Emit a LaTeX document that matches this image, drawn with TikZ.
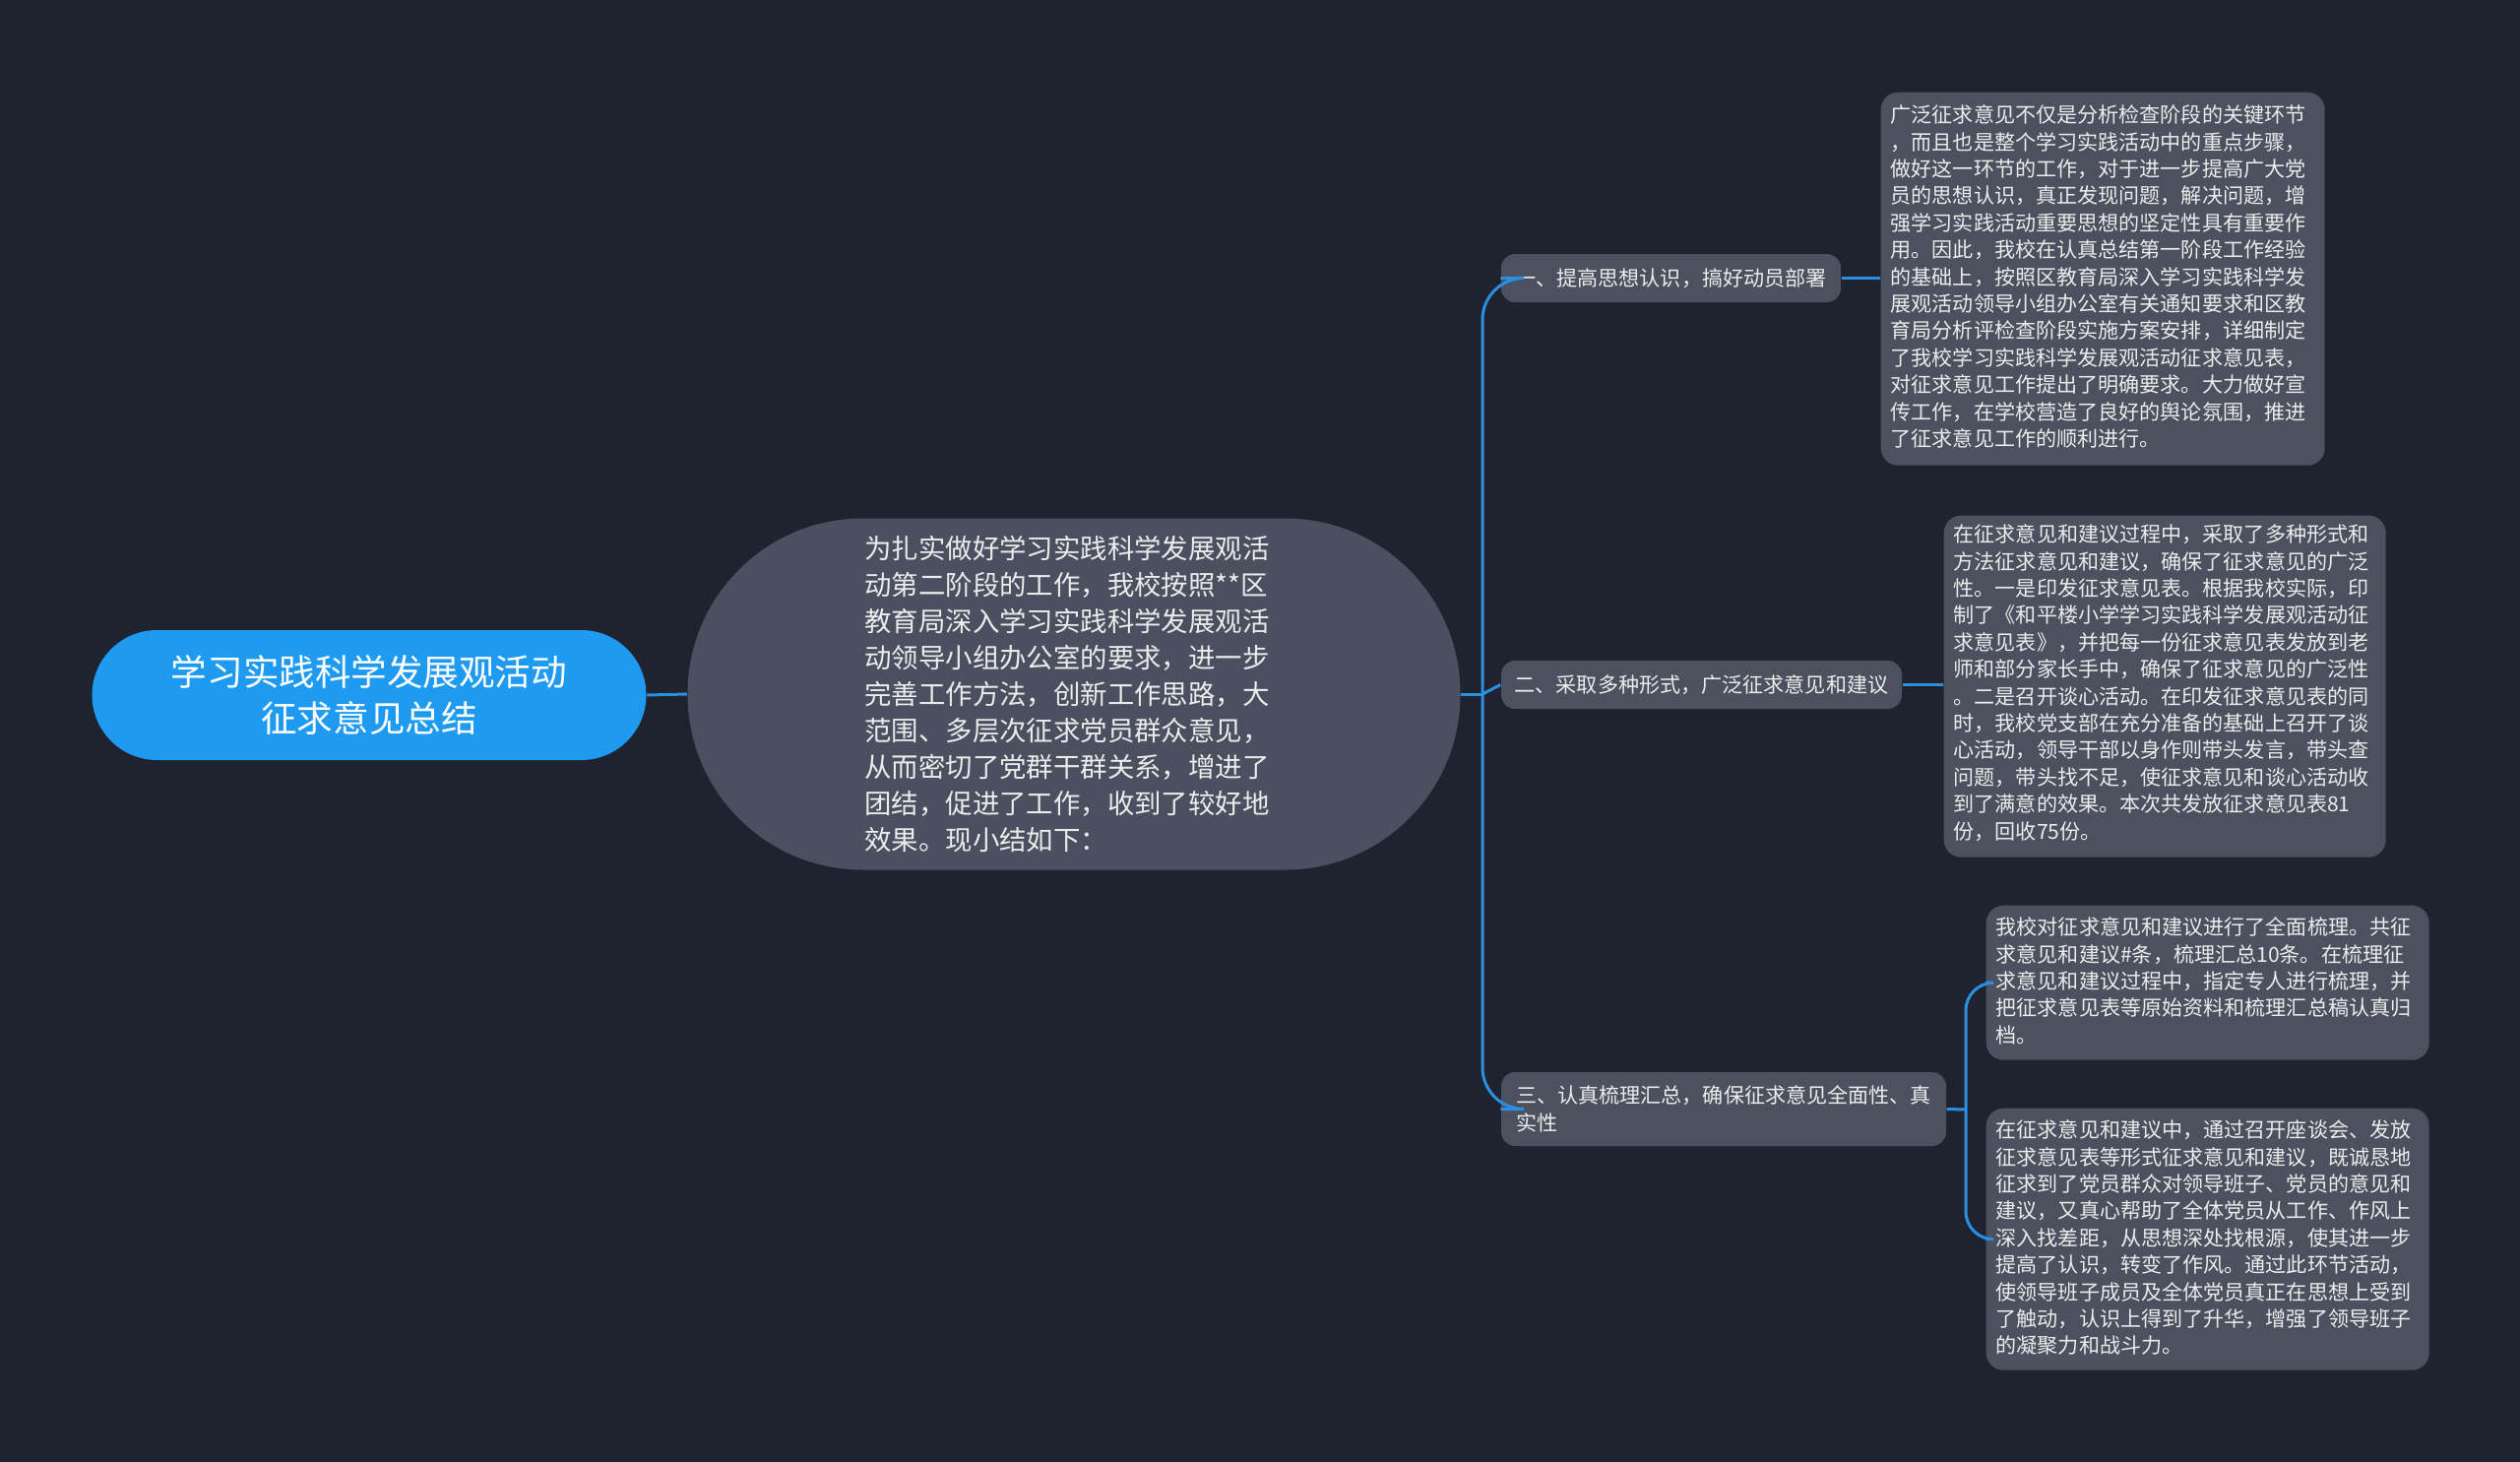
\documentclass[tikz,border=0pt]{standalone}
\usepackage{fontspec}
\setmainfont{Noto Sans CJK SC}
\definecolor{bg}{HTML}{1F2330}
\definecolor{gbox}{HTML}{4A5060}
\definecolor{lbox}{HTML}{4B515F}
\definecolor{blu}{HTML}{2A8FE0}
\definecolor{rootc}{HTML}{1E9BF0}
\definecolor{txt}{HTML}{ECECEC}
\tikzset{
 leaf/.style={fill=lbox,rounded corners=5pt,text=txt,font=\fontsize{6pt}{7.8pt}\selectfont,align=left,anchor=north west,inner sep=0pt},
 br/.style={fill=lbox,rounded corners=4pt,text=txt,font=\fontsize{6pt}{7.8pt}\selectfont,align=left,inner ysep=0pt,inner xsep=1mm},
 con/.style={draw=blu,line width=0.3mm},
}
\begin{document}
\begin{tikzpicture}[x=0.1mm,y=-0.1mm]
\fill[bg] (0,0) rectangle (2560,1485);
\useasboundingbox (0,0) rectangle (2560,1485);
\node[fill=rootc,rounded corners=66*0.1mm,minimum width=563*0.1mm,minimum height=132*0.1mm,text=white,font=\fontsize{10.4pt}{13.5pt}\selectfont,align=center,inner sep=0pt] (root) at (375,706) {学习实践科学发展观活动\\征求意见总结};
\node[fill=gbox,rounded corners=178*0.1mm,minimum width=785*0.1mm,minimum height=357*0.1mm,inner sep=0pt] (c) at (1091,705) {};
\node[text=txt,font=\fontsize{7.8pt}{10.5pt}\selectfont,align=left,inner sep=0pt] (ct) at (1084,705) {为扎实做好学习实践科学发展观活\\动第二阶段的工作，我校按照**区\\教育局深入学习实践科学发展观活\\动领导小组办公室的要求，进一步\\完善工作方法，创新工作思路，大\\范围、多层次征求党员群众意见，\\从而密切了党群干群关系，增进了\\团结，促进了工作，收到了较好地\\效果。现小结如下：};
\node[br,minimum width=345*0.1mm,minimum height=49*0.1mm] (b1) at (1697.5,282.5) {一、提高思想认识，搞好动员部署};
\node[br,minimum width=407*0.1mm,minimum height=49*0.1mm] (b2) at (1728.5,695.5) {二、采取多种形式，广泛征求意见和建议};
\node[br,minimum width=452*0.1mm,minimum height=75*0.1mm] (b3) at (1751,1126.5) {三、认真梳理汇总，确保征求意见全面性、真\\实性};
\node[leaf,minimum width=451*0.1mm,minimum height=379*0.1mm] (l1) at (1910,93) {};
\node[leaf,fill=none,anchor=north west] at (1920,106) {广泛征求意见不仅是分析检查阶段的关键环节\\，而且也是整个学习实践活动中的重点步骤，\\做好这一环节的工作，对于进一步提高广大党\\员的思想认识，真正发现问题，解决问题，增\\强学习实践活动重要思想的坚定性具有重要作\\用。因此，我校在认真总结第一阶段工作经验\\的基础上，按照区教育局深入学习实践科学发\\展观活动领导小组办公室有关通知要求和区教\\育局分析评检查阶段实施方案安排，详细制定\\了我校学习实践科学发展观活动征求意见表，\\对征求意见工作提出了明确要求。大力做好宣\\传工作，在学校营造了良好的舆论氛围，推进\\了征求意见工作的顺利进行。};
\node[leaf,minimum width=449*0.1mm,minimum height=347*0.1mm] (l2) at (1974,523) {};
\node[leaf,fill=none] at (1984,532) {在征求意见和建议过程中，采取了多种形式和\\方法征求意见和建议，确保了征求意见的广泛\\性。一是印发征求意见表。根据我校实际，印\\制了《和平楼小学学习实践科学发展观活动征\\求意见表》，并把每一份征求意见表发放到老\\师和部分家长手中，确保了征求意见的广泛性\\。二是召开谈心活动。在印发征求意见表的同\\时，我校党支部在充分准备的基础上召开了谈\\心活动，领导干部以身作则带头发言，带头查\\问题，带头找不足，使征求意见和谈心活动收\\到了满意的效果。本次共发放征求意见表81\\份，回收75份。};
\node[leaf,minimum width=450*0.1mm,minimum height=157*0.1mm] (l3a) at (2017,919) {};
\node[leaf,fill=none] at (2027,931) {我校对征求意见和建议进行了全面梳理。共征\\求意见和建议\#条，梳理汇总10条。在梳理征\\求意见和建议过程中，指定专人进行梳理，并\\把征求意见表等原始资料和梳理汇总稿认真归\\档。};
\node[leaf,minimum width=450*0.1mm,minimum height=266*0.1mm] (l3b) at (2017,1125) {};
\node[leaf,fill=none] at (2027,1137) {在征求意见和建议中，通过召开座谈会、发放\\征求意见表等形式征求意见和建议，既诚恳地\\征求到了党员群众对领导班子、党员的意见和\\建议，又真心帮助了全体党员从工作、作风上\\深入找差距，从思想深处找根源，使其进一步\\提高了认识，转变了作风。通过此环节活动，\\使领导班子成员及全体党员真正在思想上受到\\了触动，认识上得到了升华，增强了领导班子\\的凝聚力和战斗力。};
\coordinate (t) at (1506,705);
\coordinate (t3) at (1997,1127);
\draw[con] (root.east) -- (c.west);
\draw[con] (c.east) -- (t);
\draw[con,rounded corners=12pt] (t) |- (b1.west);
\draw[con] (t) -- (b2.west);
\draw[con,rounded corners=12pt] (t) |- (b3.west);
\draw[con] (b1.east) -- (l1.west |- b1.east);
\draw[con] (b2.east) -- (l2.west |- b2.east);
\draw[con] (b3.east) -- (t3);
\draw[con,rounded corners=8pt] (t3) |- (l3a.west);
\draw[con,rounded corners=8pt] (t3) |- (l3b.west);
\end{tikzpicture}
\end{document}
